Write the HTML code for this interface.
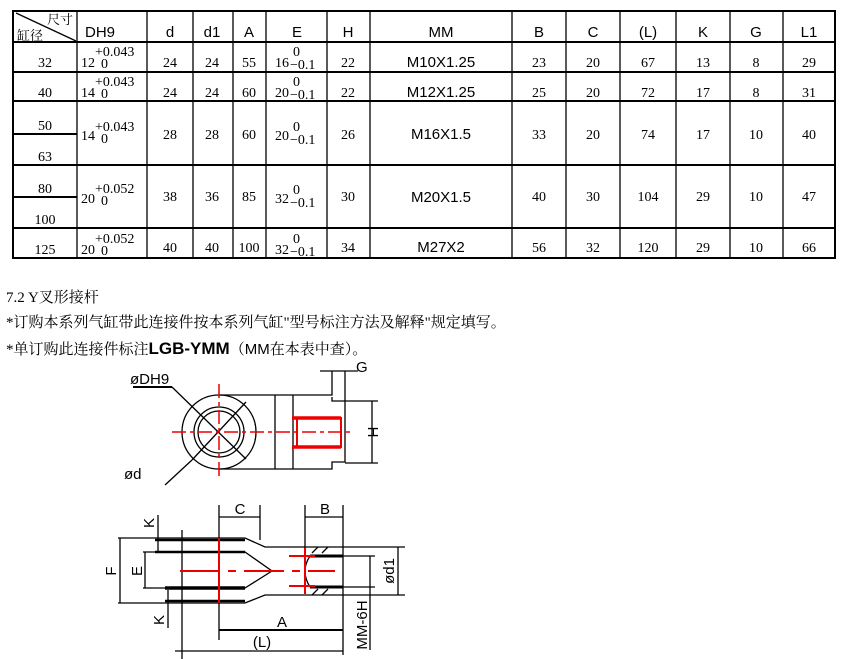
<!DOCTYPE html>
<html><head><meta charset="utf-8"><style>
body{margin:0;background:#fff;width:843px;height:659px;overflow:hidden}
svg{display:block}
.s{font-family:"Liberation Sans","DejaVu Sans",sans-serif}
.r{font-family:"Liberation Serif",serif;font-size:14px}
.c{font-family:"Liberation Serif","Noto Serif CJK SC","Noto Sans CJK SC",serif}
</style></head><body>
<svg width="843" height="659" viewBox="0 0 843 659" xmlns="http://www.w3.org/2000/svg">
<g stroke="#000" fill="none">
<rect x="13" y="11" width="822" height="247" stroke-width="2"/>
<g stroke-width="2">
<line x1="13" y1="42" x2="835" y2="42"/>
<line x1="13" y1="72" x2="835" y2="72"/>
<line x1="13" y1="101" x2="835" y2="101"/>
<line x1="13" y1="165" x2="835" y2="165"/>
<line x1="13" y1="228" x2="835" y2="228"/>
<line x1="13" y1="134" x2="77" y2="134"/>
<line x1="13" y1="197" x2="77" y2="197"/>
</g>
<g stroke-width="1.3">
<line x1="77" y1="11" x2="77" y2="258"/><line x1="147" y1="11" x2="147" y2="258"/>
<line x1="193" y1="11" x2="193" y2="258"/><line x1="233" y1="11" x2="233" y2="258"/>
<line x1="266" y1="11" x2="266" y2="258"/><line x1="327" y1="11" x2="327" y2="258"/>
<line x1="370" y1="11" x2="370" y2="258"/><line x1="512" y1="11" x2="512" y2="258"/>
<line x1="566" y1="11" x2="566" y2="258"/><line x1="620" y1="11" x2="620" y2="258"/>
<line x1="676" y1="11" x2="676" y2="258"/><line x1="730" y1="11" x2="730" y2="258"/>
<line x1="783" y1="11" x2="783" y2="258"/>
<line x1="16" y1="13" x2="76" y2="41"/>
</g>
</g>
<g class="s" font-size="15" text-anchor="middle">
<text x="60" y="24" font-size="13" class="c">尺寸</text>
<text x="30" y="40" font-size="13" class="c">缸径</text>
<text x="100" y="37" text-anchor="middle">DH9</text>
<text x="170" y="37">d</text><text x="212" y="37">d1</text><text x="249" y="37">A</text>
<text x="297" y="37">E</text><text x="348" y="37">H</text><text x="441" y="37">MM</text>
<text x="539" y="37">B</text><text x="593" y="37">C</text><text x="648" y="37">(L)</text>
<text x="703" y="37">K</text><text x="756" y="37">G</text><text x="809" y="37">L1</text>
<text x="441" y="67">M10X1.25</text><text x="441" y="97">M12X1.25</text>
<text x="441" y="139">M16X1.5</text><text x="441" y="202">M20X1.5</text><text x="441" y="252">M27X2</text>
</g>
<g class="r" text-anchor="middle">
<text x="45" y="67">32</text><text x="45" y="97">40</text><text x="45" y="130">50</text><text x="45" y="161">63</text>
<text x="45" y="193">80</text><text x="45" y="224">100</text><text x="45" y="254">125</text>
<g text-anchor="start">
<text x="81" y="67">12</text><text x="95" y="56" font-size="14">+0.043</text><text x="101" y="68" font-size="14">0</text>
<text x="81" y="97">14</text><text x="95" y="86" font-size="14">+0.043</text><text x="101" y="98" font-size="14">0</text>
<text x="81" y="140">14</text><text x="95" y="131" font-size="14">+0.043</text><text x="101" y="143" font-size="14">0</text>
<text x="81" y="203">20</text><text x="95" y="193" font-size="14">+0.052</text><text x="101" y="205" font-size="14">0</text>
<text x="81" y="254">20</text><text x="95" y="243" font-size="14">+0.052</text><text x="101" y="255" font-size="14">0</text>
<text x="275" y="67">16</text><text x="293" y="56" font-size="14">0</text><text x="290" y="69" font-size="14">−0.1</text>
<text x="275" y="97">20</text><text x="293" y="86" font-size="14">0</text><text x="290" y="99" font-size="14">−0.1</text>
<text x="275" y="140">20</text><text x="293" y="131" font-size="14">0</text><text x="290" y="144" font-size="14">−0.1</text>
<text x="275" y="203">32</text><text x="293" y="194" font-size="14">0</text><text x="290" y="207" font-size="14">−0.1</text>
<text x="275" y="254">32</text><text x="293" y="243" font-size="14">0</text><text x="290" y="256" font-size="14">−0.1</text>
</g>
<text x="170" y="67">24</text><text x="212" y="67">24</text><text x="249" y="67">55</text><text x="348" y="67">22</text>
<text x="539" y="67">23</text><text x="593" y="67">20</text><text x="648" y="67">67</text><text x="703" y="67">13</text><text x="756" y="67">8</text><text x="809" y="67">29</text>
<text x="170" y="97">24</text><text x="212" y="97">24</text><text x="249" y="97">60</text><text x="348" y="97">22</text>
<text x="539" y="97">25</text><text x="593" y="97">20</text><text x="648" y="97">72</text><text x="703" y="97">17</text><text x="756" y="97">8</text><text x="809" y="97">31</text>
<text x="170" y="139">28</text><text x="212" y="139">28</text><text x="249" y="139">60</text><text x="348" y="139">26</text>
<text x="539" y="139">33</text><text x="593" y="139">20</text><text x="648" y="139">74</text><text x="703" y="139">17</text><text x="756" y="139">10</text><text x="809" y="139">40</text>
<text x="170" y="201">38</text><text x="212" y="201">36</text><text x="249" y="201">85</text><text x="348" y="201">30</text>
<text x="539" y="201">40</text><text x="593" y="201">30</text><text x="648" y="201">104</text><text x="703" y="201">29</text><text x="756" y="201">10</text><text x="809" y="201">47</text>
<text x="170" y="252">40</text><text x="212" y="252">40</text><text x="249" y="252">100</text><text x="348" y="252">34</text>
<text x="539" y="252">56</text><text x="593" y="252">32</text><text x="648" y="252">120</text><text x="703" y="252">29</text><text x="756" y="252">10</text><text x="809" y="252">66</text>
</g>
<g class="c" font-size="15">
<text x="6" y="302">7.2 Y叉形接杆</text>
<text x="6" y="327">*订购本系列气缸带此连接件按本系列气缸"型号标注方法及解释"规定填写。</text>
<text x="6" y="354">*单订购此连接件标注<tspan class="s" font-weight="bold" font-size="17">LGB-YMM</tspan>（<tspan class="s">MM</tspan>在本表中查）。</text>
</g>
<!-- drawing 1 -->
<g stroke="#000" fill="none" stroke-width="1.3">
<circle cx="219" cy="432" r="37"/><circle cx="219" cy="432" r="25"/><circle cx="219" cy="432" r="21"/>
<path d="M219 395 H332 V371 M219 469 H332 V462 H345 V401 H332 V397"/>
<line x1="345" y1="371" x2="345" y2="401"/>
<line x1="275" y1="395" x2="275" y2="469"/><line x1="293" y1="395" x2="293" y2="469"/>
<line x1="320" y1="371" x2="358" y2="371"/>
<line x1="345" y1="401" x2="378" y2="401"/><line x1="345" y1="463" x2="378" y2="463"/>
<line x1="372" y1="401" x2="372" y2="463"/>
<line x1="133" y1="387" x2="172" y2="387" stroke-width="2"/>
<line x1="172" y1="387" x2="246" y2="459"/><line x1="246" y1="402" x2="192" y2="460"/>
<line x1="192" y1="460" x2="165" y2="485"/>
</g>
<g stroke="#e00" fill="none" stroke-width="1.5">
<line x1="172" y1="432" x2="350" y2="432" stroke-dasharray="14,4,4,4"/>
<line x1="219" y1="384" x2="219" y2="478" stroke-dasharray="14,4,4,4"/>
<rect x="297" y="418" width="44" height="29" stroke-width="2"/>
<line x1="292" y1="418" x2="341" y2="418" stroke-width="3.5"/><line x1="292" y1="447" x2="341" y2="447" stroke-width="3.5"/>
</g>
<text x="130" y="384" class="s" font-size="15">øDH9</text>
<text x="124" y="479" class="s" font-size="15">ød</text>
<text x="356" y="372" class="s" font-size="15">G</text>
<text x="0" y="0" class="s" font-size="15" transform="translate(368,432) rotate(90)" text-anchor="middle">H</text>
<!-- drawing 2 -->
<g stroke="#000" fill="none" stroke-width="1.3">
<path d="M118 538 H245 L265 547 H343 M118 603 H245 L265 595 H343"/>
<path d="M143 552 H245 L272 571 L245 588 H143"/>
<line x1="155" y1="540" x2="245" y2="540" stroke-width="2.5"/><line x1="155" y1="552" x2="245" y2="552" stroke-width="2.5"/>
<line x1="165" y1="588" x2="245" y2="588" stroke-width="3.5"/><line x1="165" y1="601" x2="245" y2="601" stroke-width="2.5"/>
<line x1="182" y1="530" x2="182" y2="659"/><line x1="219" y1="505" x2="219" y2="640"/>
<line x1="260" y1="505" x2="260" y2="540"/><line x1="305" y1="505" x2="305" y2="590"/><line x1="343" y1="505" x2="343" y2="655"/>
<line x1="219" y1="517" x2="260" y2="517"/><line x1="305" y1="517" x2="343" y2="517"/>
<line x1="219" y1="630" x2="343" y2="630" stroke-width="2"/><line x1="175" y1="651" x2="343" y2="651"/>
<line x1="120" y1="538" x2="120" y2="603"/><line x1="145" y1="552" x2="145" y2="588"/>
<line x1="158" y1="515" x2="158" y2="552"/><line x1="168" y1="590" x2="168" y2="628"/>
<path d="M310 556 H375 M310 587 H375 M343 547 H405 M343 595 H405"/>
<line x1="310" y1="556" x2="343" y2="556" stroke-width="3"/><line x1="310" y1="587" x2="343" y2="587" stroke-width="3"/>
<line x1="398" y1="547" x2="398" y2="595"/><line x1="370" y1="556" x2="370" y2="650"/>
<path d="M310 556 Q300 571 310 587" />
<path d="M312 553 L318 547 M322 553 L328 547 M312 595 L318 589 M322 595 L328 589"/>
</g>
<g stroke="#e00" fill="none" stroke-width="2">
<line x1="180" y1="571" x2="335" y2="571" stroke-dasharray="40,8,8,8"/>
<line x1="219" y1="538" x2="219" y2="603"/>
<line x1="289" y1="556" x2="315" y2="556"/><line x1="289" y1="586" x2="315" y2="586"/>
<line x1="305" y1="548" x2="305" y2="594"/>
</g>
<g class="s" font-size="15" text-anchor="middle">
<text x="240" y="514">C</text><text x="325" y="514">B</text><text x="282" y="627">A</text><text x="262" y="647">(L)</text>
<text transform="translate(116,571) rotate(-90)">F</text>
<text transform="translate(142,571) rotate(-90)">E</text>
<text transform="translate(154,523) rotate(-90)">K</text>
<text transform="translate(164,620) rotate(-90)">K</text>
<text transform="translate(394,571) rotate(-90)">ød1</text>
<text transform="translate(367,625) rotate(-90)">MM-6H</text>
</g>
</svg>
</body></html>
